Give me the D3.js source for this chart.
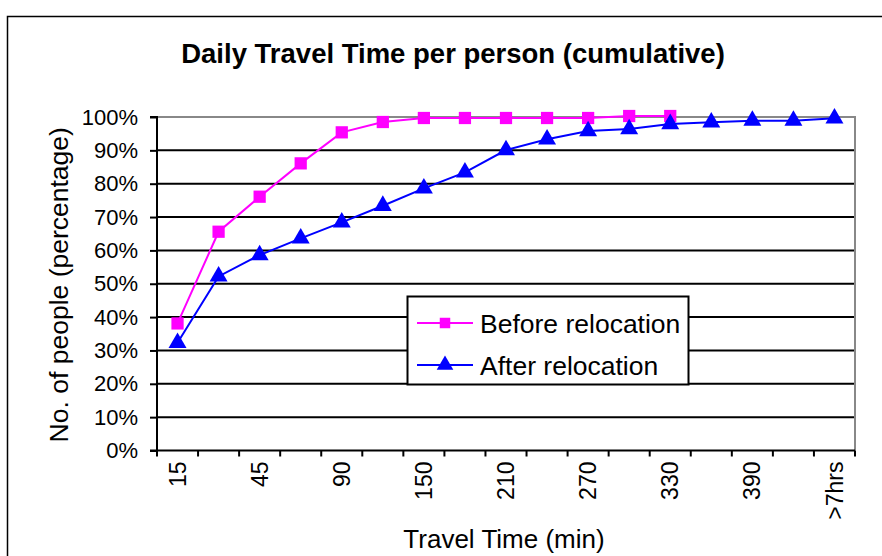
<!DOCTYPE html>
<html>
<head>
<meta charset="utf-8">
<script src="https://cdn.jsdelivr.net/npm/d3@7/dist/d3.min.js"></script>
<style>
  html, body { margin: 0; padding: 0; background: #fff; }
  svg { display: block; }
  text { font-family: "Liberation Sans", Arial, sans-serif; fill: #000; }
</style>
</head>
<body>
<script>
// ---- Data ----
const categories = ["15", "30", "45", "60", "90", "120", "150", "180", "210", "240", "270", "300", "330", "360", "390", "420", ">7hrs"];
const tickLabels = ["15", "45", "90", "150", "210", "270", "330", "390", ">7hrs"];
const beforeValues = [38.1, 65.6, 76.1, 86.1, 95.4, 98.5, 99.7, 99.7, 99.7, 99.7, 99.7, 100.3, 100.3];
const afterValues = [32.3, 52.2, 58.6, 63.6, 68.4, 73.4, 78.6, 83.4, 90.1, 93.3, 95.8, 96.4, 97.9, 98.4, 98.9, 98.9, 99.6];
const yTicks = [0, 10, 20, 30, 40, 50, 60, 70, 80, 90, 100];
const seriesNames = ["Before relocation", "After relocation"];

const W = 882, H = 556;
const plot = { left: 157, right: 855, top: 117, bottom: 450.5 };

const svg = d3.select("body").append("svg").attr("width", W).attr("height", H);

// outer chart border
svg.append("rect").attr("x", 7.5).attr("y", 16.5).attr("width", 900).attr("height", 600)
  .attr("fill", "#fff").attr("stroke", "#000").attr("stroke-width", 1.5);

const x = d3.scaleBand().domain(categories).range([plot.left, plot.right]).padding(0);
const y = d3.scaleLinear().domain([0, 100]).range([plot.bottom, plot.top]);

// gridlines
svg.append("g").selectAll("line").data(yTicks.filter(d => d > 0 && d < 100)).join("line")
  .attr("x1", plot.left).attr("x2", plot.right)
  .attr("y1", d => y(d)).attr("y2", d => y(d))
  .attr("stroke", "#000").attr("stroke-width", 2);

// plot area border top/right (gray)
svg.append("path")
  .attr("d", `M${plot.left},${y(100)}H${plot.right}V${plot.bottom}`)
  .attr("fill", "none").attr("stroke", "#888").attr("stroke-width", 2);

// y axis
const yAxis = d3.axisLeft(y).tickValues(yTicks).tickSize(7).tickPadding(12).tickFormat(d => d + "%");
const gy = svg.append("g").attr("transform", `translate(${plot.left},0)`).call(yAxis);
gy.select(".domain").attr("stroke", "#000").attr("stroke-width", 2).attr("d", `M-7,${plot.top}H0V${plot.bottom}H-7`);
gy.selectAll(".tick line").attr("stroke", "#000").attr("stroke-width", 2);
gy.selectAll(".tick text").style("font-size", "22px").attr("fill", "#000");

// x axis
const xAxis = d3.axisBottom(x).tickSize(0).tickFormat(d => tickLabels.includes(d) ? d : "");
const gx = svg.append("g").attr("transform", `translate(0,${plot.bottom})`).call(xAxis);
gx.select(".domain").attr("stroke", "#000").attr("stroke-width", 2).attr("d", `M${plot.left},0H${plot.right}`);
// boundary tick marks
const bounds = categories.map(c => x(c)).concat([plot.right]);
gx.selectAll(".bt").data(bounds).join("line").attr("class", "bt")
  .attr("x1", d => d).attr("x2", d => d).attr("y1", 0).attr("y2", 6)
  .attr("stroke", "#000").attr("stroke-width", 2);
gx.selectAll(".tick text")
  .style("font-size", "23px").attr("fill", "#000")
  .attr("text-anchor", "end").attr("dy", "0.35em")
  .attr("transform", "translate(0,11) rotate(-90)").attr("y", 0).attr("x", 0);

// lines
const lineGen = d3.line().x((d, i) => x(categories[i]) + x.bandwidth() / 2).y(d => y(d));
svg.append("path").datum(beforeValues).attr("d", lineGen)
  .attr("fill", "none").attr("stroke", "#FF00FF").attr("stroke-width", 2);
svg.append("path").datum(afterValues).attr("d", lineGen)
  .attr("fill", "none").attr("stroke", "#0000FF").attr("stroke-width", 2);

const sq = d3.symbol().type(d3.symbolSquare).size(150);
const tri = d3.symbol().type(d3.symbolTriangle).size(140);

svg.append("g").selectAll("path").data(beforeValues).join("path")
  .attr("d", sq)
  .attr("transform", (d, i) => `translate(${x(categories[i]) + x.bandwidth() / 2},${y(d)})`)
  .attr("fill", "#FF00FF");
svg.append("g").selectAll("path").data(afterValues).join("path")
  .attr("d", tri)
  .attr("transform", (d, i) => `translate(${x(categories[i]) + x.bandwidth() / 2},${y(d)})`)
  .attr("fill", "#0000FF");

// title
svg.append("text").attr("x", 453).attr("y", 63).attr("text-anchor", "middle")
  .style("font-size", "27.5px").style("font-weight", "bold").text("Daily Travel Time per person (cumulative)");

// axis titles
svg.append("text").attr("transform", `translate(68,${(plot.top + plot.bottom) / 2 + 1}) rotate(-90)`)
  .attr("text-anchor", "middle").style("font-size", "26.5px").text("No. of people (percentage)");
svg.append("text").attr("x", 504).attr("y", 548).attr("text-anchor", "middle")
  .style("font-size", "26px").text("Travel Time (min)");

// legend
const lg = svg.append("g").attr("transform", "translate(407,296)");
lg.append("rect").attr("x", 0.5).attr("y", 0.5).attr("width", 281).attr("height", 88)
  .attr("fill", "#fff").attr("stroke", "#000").attr("stroke-width", 2);
const colors = ["#FF00FF", "#0000FF"];
seriesNames.forEach((name, i) => {
  const yy = 27 + i * 42;
  lg.append("line").attr("x1", 10).attr("x2", 66).attr("y1", yy).attr("y2", yy)
    .attr("stroke", colors[i]).attr("stroke-width", 2);
  lg.append("path").attr("d", i === 0 ? d3.symbol().type(d3.symbolSquare).size(110)() : d3.symbol().type(d3.symbolTriangle).size(120)())
    .attr("transform", `translate(38,${yy})`).attr("fill", colors[i]);
  lg.append("text").attr("x", 73).attr("y", yy).attr("dy", "0.36em")
    .style("font-size", "26.5px").text(name);
});
</script>
</body>
</html>
